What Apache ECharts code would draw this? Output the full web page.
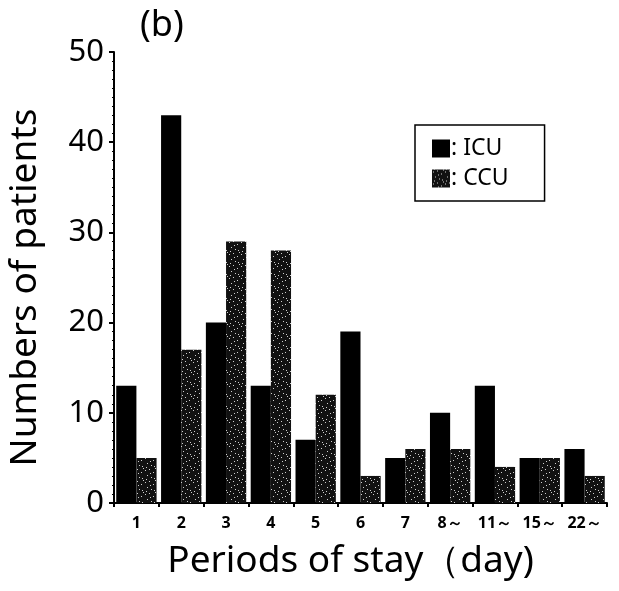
<!DOCTYPE html>
<html>
<head>
<meta charset="utf-8">
<script src="https://cdn.jsdelivr.net/npm/echarts@6/dist/echarts.min.js"></script>
<style>
  html, body { margin: 0; padding: 0; background: #fff; }
  #main { width: 619px; height: 591px; }
</style>
</head>
<body>
<div id="main"></div>
<script>
// 入院期間ごとの患者数 (b)
var categories = ['1', '2', '3', '4', '5', '6', '7', '8～', '11～', '15～', '22～'];
var icuValues = [13, 43, 20, 13, 7, 19, 5, 10, 13, 5, 6];
var ccuValues = [5, 17, 29, 28, 12, 3, 6, 6, 4, 5, 3];
var yTicks = [0, 10, 20, 30, 40, 50];

// CCU のざらざらした網点
function speckle() {
  var c = document.createElement('canvas');
  c.width = 12; c.height = 12;
  var ctx = c.getContext('2d');
  ctx.fillStyle = '#111';
  ctx.fillRect(0, 0, 12, 12);
  ctx.fillStyle = 'rgba(255,255,255,0.8)';
  var dots = [[1,2],[5,1],[9,4],[3,7],[7,9],[10,10],[2,11],[6,5],[11,0]];
  dots.forEach(function (d) { ctx.fillRect(d[0], d[1], 1, 1); });
  return c;
}

var chart = echarts.init(document.getElementById('main'));
var font = 'Noto Sans';

var option = {
  animation: false,
  title: {
    text: '(b)',
    left: 135, top: 3,
    textStyle: { fontFamily: font, fontSize: 36, fontWeight: 'normal', color: '#000' }
  },
  legend: {
    data: [
      { name: 'ICU', itemStyle: { color: '#000' } },
      { name: 'CCU', itemStyle: { color: { image: speckle(), repeat: 'repeat' } } }
    ],
    orient: 'vertical',
    left: 415, top: 125,
    padding: [12, 36, 11, 17],
    itemWidth: 18, itemHeight: 18, itemGap: 7,
    icon: 'rect',
    borderColor: '#000', borderWidth: 1.5,
    formatter: function (n) { return ': ' + n; },
    textStyle: { fontFamily: font, fontSize: 23, color: '#000', padding: [0, 0, 0, -4] }
  },
  grid: { left: 114, right: 12, top: 52, bottom: 88, outerBoundsMode: 'none', containLabel: false },
  xAxis: {
    type: 'category',
    data: categories,
    name: 'Periods of stay（day)',
    nameLocation: 'middle',
    nameGap: 40,
    nameTextStyle: { fontFamily: font, fontSize: 37, color: '#000', padding: [0, 20, 0, 0] },
    axisLine: { lineStyle: { color: '#000', width: 2 } },
    axisTick: { show: true, length: 4, lineStyle: { color: '#000', width: 2 } },
    axisLabel: { interval: 0, fontFamily: font, fontSize: 16, fontWeight: 'bold', color: '#000', margin: 12 }
  },
  yAxis: {
    type: 'value',
    min: yTicks[0], max: yTicks[yTicks.length - 1], interval: 10,
    name: 'Numbers of patients',
    nameLocation: 'middle',
    nameGap: 70,
    nameTextStyle: { fontFamily: font, fontSize: 37, color: '#000', padding: [0, 20, 0, 0] },
    splitLine: { show: false },
    axisLine: { show: true, lineStyle: { color: '#000', width: 2 } },
    axisTick: { show: true, length: 5, lineStyle: { color: '#000', width: 2 } },
    minorTick: { show: true, splitNumber: 10, length: 2, lineStyle: { color: '#000', width: 1 } },
    axisLabel: { fontFamily: font, fontSize: 31, color: '#000', margin: 10 }
  },
  series: [
    {
      name: 'ICU', type: 'bar', data: icuValues,
      barGap: '0%', barCategoryGap: '10%',
      itemStyle: { color: '#000' }
    },
    {
      name: 'CCU', type: 'bar', data: ccuValues,
      itemStyle: { color: { image: speckle(), repeat: 'repeat' } }
    }
  ]
};
chart.setOption(option);
</script>
</body>
</html>
